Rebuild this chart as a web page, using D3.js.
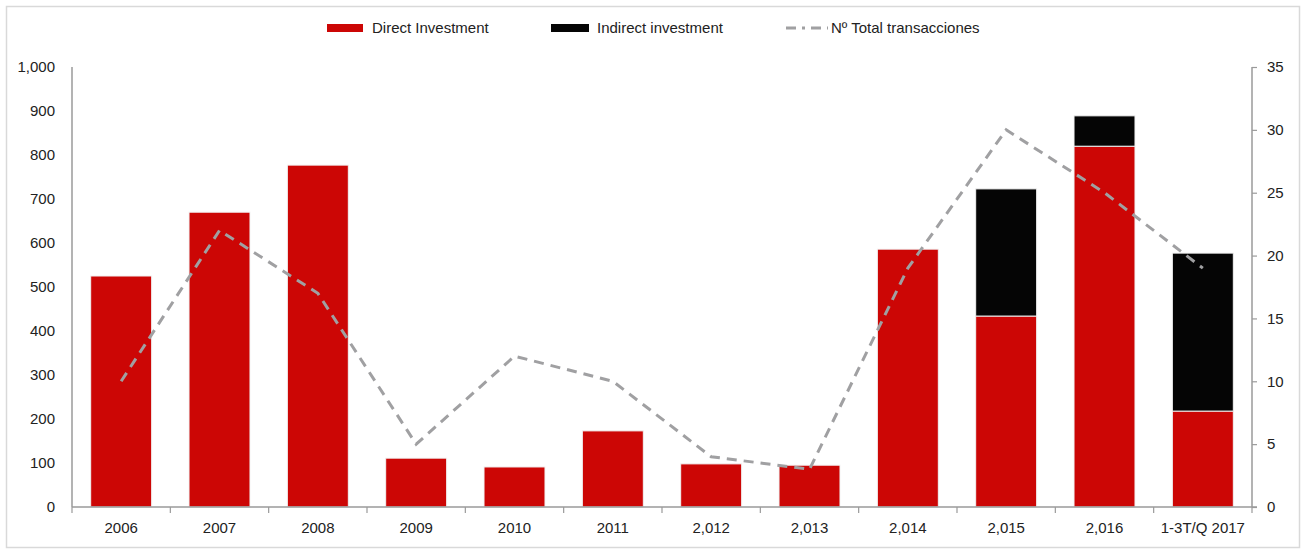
<!DOCTYPE html>
<html>
<head>
<meta charset="utf-8">
<script src="https://cdn.jsdelivr.net/npm/d3@7"></script>
<style>
  body { margin: 0; background: #fff; }
  svg { display: block; }
  text { font-family: "Liberation Sans Narrow", "Arial Narrow", "Liberation Sans", sans-serif; fill: #222; }
</style>
</head>
<body>
<svg id="chart" width="1306" height="551"></svg>
<script>
// chart data
var categories = ["2006", "2007", "2008", "2009", "2010", "2011", "2,012", "2,013", "2,014", "2,015", "2,016", "1-3T/Q 2017"];
var directInv = [525, 670, 777, 111, 91, 173, 98, 95, 586, 434, 820, 218];
var indirectInv = [0, 0, 0, 0, 0, 0, 0, 0, 0, 289, 69, 359];
var transacciones = [10, 22, 17, 5, 12, 10, 4, 3, 19, 30, 25, 19];
var leftTicks = [0, 100, 200, 300, 400, 500, 600, 700, 800, 900, 1000];
var rightTicks = [0, 5, 10, 15, 20, 25, 30, 35];

var svg = d3.select("#chart");
var margin = {left: 72, right: 54, top: 67, bottom: 44};
var W = 1306, H = 551;

// outer frame
svg.append("rect")
  .attr("x", 6.5).attr("y", 6.5)
  .attr("width", W - 13).attr("height", H - 10)
  .attr("fill", "none").attr("stroke", "#d9d9d9").attr("stroke-width", 1.5);

var x = d3.scaleBand()
  .domain(categories)
  .range([margin.left, W - margin.right])
  .paddingInner(0.38).paddingOuter(0.19);

var y = d3.scaleLinear().domain([0, 1000]).range([H - margin.bottom, margin.top]);
var y2 = d3.scaleLinear().domain([0, 35]).range([H - margin.bottom, margin.top]);

// bars
var stackData = categories.map(function(c, i) {
  return {cat: c, direct: directInv[i], indirect: indirectInv[i]};
});
var series = d3.stack().keys(["direct", "indirect"])(stackData);
var colors = {direct: "#cc0605", indirect: "#050505"};

svg.append("g").selectAll("g")
  .data(series)
  .join("g")
  .attr("fill", function(d) { return colors[d.key]; })
  .selectAll("rect")
  .data(function(d) { return d.filter(function(p) { return p[1] - p[0] > 0; }); })
  .join("rect")
  .attr("x", function(d) { return x(d.data.cat); })
  .attr("width", x.bandwidth())
  .attr("y", function(d) { return y(d[1]); })
  .attr("height", function(d) { return y(d[0]) - y(d[1]); })
  .attr("stroke", "#f2f2f2")
  .attr("stroke-width", 1);

// line on secondary axis
var line = d3.line()
  .x(function(d, i) { return x(categories[i]) + x.bandwidth() / 2; })
  .y(function(d) { return y2(d); });

svg.append("path")
  .datum(transacciones)
  .attr("d", line)
  .attr("fill", "none")
  .attr("stroke", "#a0a0a2")
  .attr("stroke-width", 3)
  .attr("stroke-dasharray", "10,7");

// axes
var axisColor = "#9a9a9a";
var leftAxis = d3.axisLeft(y).tickValues(leftTicks).tickSize(0).tickPadding(17)
  .tickFormat(d3.format(","));
var gl = svg.append("g").attr("transform", "translate(" + margin.left + ",0)").call(leftAxis);

var rightAxis = d3.axisRight(y2).tickValues(rightTicks).tickSize(5).tickPadding(10);
var gr = svg.append("g").attr("transform", "translate(" + (W - margin.right) + ",0)").call(rightAxis);

var gb = svg.append("g").attr("transform", "translate(0," + (H - margin.bottom) + ")");
gb.append("line")
  .attr("x1", margin.left).attr("x2", W - margin.right + 5)
  .attr("stroke", axisColor).attr("stroke-width", 1.5);
gb.selectAll("line.tk")
  .data(d3.range(categories.length + 1))
  .join("line")
  .attr("class", "tk")
  .attr("x1", function(i) { return margin.left + i * (W - margin.left - margin.right) / categories.length; })
  .attr("x2", function(i) { return margin.left + i * (W - margin.left - margin.right) / categories.length; })
  .attr("y1", 0).attr("y2", 6)
  .attr("stroke", axisColor).attr("stroke-width", 1.2);
gb.selectAll("text")
  .data(categories)
  .join("text")
  .attr("x", function(d) { return x(d) + x.bandwidth() / 2; })
  .attr("y", 26)
  .attr("text-anchor", "middle")
  .attr("font-size", 15)
  .text(function(d) { return d; });

[gl, gr].forEach(function(g) {
  g.select(".domain").attr("stroke", axisColor).attr("stroke-width", 1.5);
  g.selectAll(".tick line").attr("stroke", axisColor).attr("stroke-width", 1.2);
  g.selectAll(".tick text").attr("font-size", 15).attr("fill", "#222")
    .style("font-family", "'Liberation Sans Narrow', 'Arial Narrow', sans-serif");
});
gl.select(".domain").attr("d", "M0," + (H - margin.bottom) + "V" + margin.top);
gr.select(".domain").attr("d", "M0," + (H - margin.bottom) + "V" + margin.top);

// legend
var legend = svg.append("g").attr("transform", "translate(0,28)");
legend.append("rect").attr("x", 327).attr("y", -4).attr("width", 36).attr("height", 8).attr("fill", colors.direct);
legend.append("text").attr("x", 372).attr("y", 5).attr("font-size", 15).text("Direct Investment");
legend.append("rect").attr("x", 551).attr("y", -4).attr("width", 38).attr("height", 8).attr("fill", colors.indirect);
legend.append("text").attr("x", 597).attr("y", 5).attr("font-size", 15).text("Indirect investment");
legend.append("line").attr("x1", 786).attr("x2", 828).attr("y1", 0).attr("y2", 0)
  .attr("stroke", "#a0a0a2").attr("stroke-width", 3).attr("stroke-dasharray", "10,6,3,6");
legend.append("text").attr("x", 831).attr("y", 5).attr("font-size", 15).text("Nº Total transacciones");
</script>
</body>
</html>
